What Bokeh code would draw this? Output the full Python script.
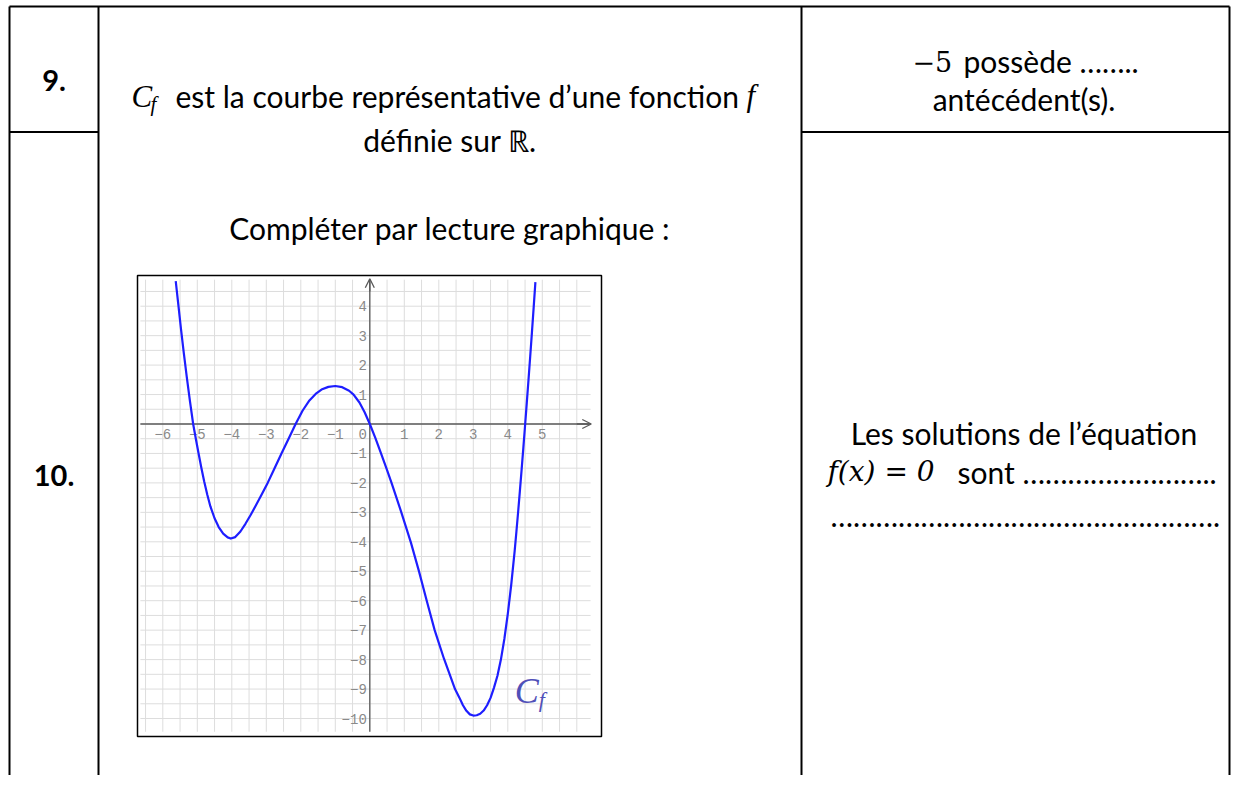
from bokeh.plotting import figure
from bokeh.models import Range1d, Arrow, OpenHead
from bokeh.core.properties import value
from bokeh.embed import file_html
from bokeh.resources import INLINE
import numpy as np

# ---------------- data ----------------
curve_x = [-5.625, -5.55, -5.47, -5.39, -5.30, -5.21, -5.12, -5.04, -4.96, -4.88, -4.80,
           -4.71, -4.62, -4.50, -4.38, -4.25, -4.12, -4.03, -3.90, -3.75, -3.60, -3.45,
           -3.30, -3.15, -2.96, -2.76, -2.56, -2.35, -2.15, -1.95, -1.75, -1.57, -1.40,
           -1.20, -1.00, -0.80, -0.60, -0.47, -0.30, -0.15, 0.00, 0.16, 0.32, 0.48, 0.63,
           0.90, 1.19, 1.43, 1.65, 1.88, 2.00, 2.15, 2.30, 2.47, 2.60, 2.70, 2.80, 2.90,
           3.00, 3.10, 3.20, 3.30, 3.40, 3.50, 3.60, 3.70, 3.80, 3.90, 4.00, 4.10, 4.20,
           4.25, 4.30, 4.35, 4.40, 4.45, 4.50, 4.55, 4.60, 4.65, 4.70, 4.75, 4.80]
curve_y = [4.85, 4.05, 3.2, 2.4, 1.55, 0.75, 0.0, -0.52, -1.02, -1.5, -1.95,
           -2.4, -2.8, -3.2, -3.5, -3.72, -3.85, -3.89, -3.84, -3.65, -3.38, -3.08,
           -2.76, -2.43, -2.0, -1.5, -1.0, -0.49, 0.0, 0.45, 0.8, 1.02, 1.17,
           1.26, 1.29, 1.25, 1.13, 1.0, 0.73, 0.4, 0.0, -0.47, -0.98, -1.5, -2.0,
           -2.95, -4.02, -5.02, -6.0, -7.0, -7.43, -7.97, -8.45, -9.0, -9.3, -9.55, -9.74, -9.86,
           -9.9, -9.89, -9.84, -9.73, -9.55, -9.3, -8.95, -8.55, -8.0, -7.3, -6.45, -5.45, -4.3,
           -3.65, -2.98, -2.28, -1.56, -0.82, -0.06, 0.72, 1.5, 2.3, 3.12, 3.96, 4.82]

x_tick_vals = [-6, -5, -4, -3, -2, -1, 1, 2, 3, 4, 5]
x_tick_text = ["\u22126", "\u22125", "\u22124", "\u22123", "\u22122", "\u22121", "1", "2", "3", "4", "5"]
y_tick_vals = [4, 3, 2, 1, -1, -2, -3, -4, -5, -6, -7, -8, -9, -10]
y_tick_text = ["4", "3", "2", "1", "\u22121", "\u22122", "\u22123", "\u22124", "\u22125",
               "\u22126", "\u22127", "\u22128", "\u22129", "\u221210"]
origin_text = ["0"]

num_labels = ["9.", "10."]
mid_line1 = "est la courbe repr\u00e9sentative d\u2019une fonction"
mid_line2 = "d\u00e9finie sur \u211d."
mid_line3 = "Compl\u00e9ter par lecture graphique :"
right_a1 = "\u22125"
right_a2 = "poss\u00e8de \u2026\u2026.."
right_b = "ant\u00e9c\u00e9dent(s)."
right_c = "Les solutions de l\u2019\u00e9quation"
right_d1 = "f(x) = 0"
right_d2 = "sont " + "\u2026" * 8 + ".."
right_e = "\u2026" * 17 + "."
curve_name = "C"
curve_sub = "f"

# ---------------- layout constants (page pixels) ----------------
W, H = 1231, 775
OX, UX = 369.3, 34.5      # chart origin / pixels per unit (x)
OY, UY = 423.5, 29.45     # chart origin / pixels per unit (y)

p = figure(width=W, height=H, output_backend="svg", toolbar_location=None,
           x_range=Range1d(0, W), y_range=Range1d(H, 0),
           x_axis_location=None, y_axis_location=None,
           min_border=0, outline_line_color=None)
p.grid.visible = False

p.extra_x_ranges = {"cx": Range1d((0 - OX) / UX, (W - OX) / UX)}
p.extra_y_ranges = {"cy": Range1d((OY - H) / UY, (OY - 0) / UY)}
C = dict(x_range_name="cx", y_range_name="cy")

# ---------------- table borders ----------------
TL, TC1, TC2, TR = 9, 98, 801, 1229
TT, TM, TB = 6, 131.5, 790
p.segment(x0=[TL, TL, TL, TC1, TC2, TR, TC2], y0=[TT, TM, TT, TT, TT, TT, TM],
          x1=[TR, TC1, TL, TC1, TC2, TR, TR], y1=[TT, TM, TB, TB, TB, TB, TM],
          line_color="black", line_width=2)

# ---------------- inner chart ----------------
gx = np.arange(-6.5, 6.01, 0.5)
gy = np.arange(-10.0, 4.51, 0.5)
p.segment(x0=gx, y0=-10.45, x1=gx, y1=4.9, line_color="#dddddd", line_width=1, **C)
p.segment(x0=-6.65, y0=gy, x1=6.4, y1=gy, line_color="#dddddd", line_width=1, **C)

axc = "#5a5a5a"
p.segment(x0=[-6.65, 0], y0=[0, -10.45], x1=[6.4, 0], y1=[0, 4.9],
          line_color=axc, line_width=1.3, **C)
p.add_layout(Arrow(end=OpenHead(size=9, line_color=axc, line_width=1.3),
                   x_start=6.0, y_start=0, x_end=6.42, y_end=0,
                   line_color=axc, line_width=1.3, **C))
p.add_layout(Arrow(end=OpenHead(size=9, line_color=axc, line_width=1.3),
                   x_start=0, y_start=4.5, x_end=0, y_end=4.93,
                   line_color=axc, line_width=1.3, **C))

tick_font = value("Liberation Mono")
tick_size = value("14px")
tick_col = "#8a8a8a"
p.text(x=x_tick_vals, y=[0] * len(x_tick_vals), text=x_tick_text, y_offset=5,
       text_align="center", text_baseline="top", text_font=tick_font,
       text_font_size=tick_size, text_color=tick_col, **C)
p.text(x=[0], y=[0], text=origin_text, x_offset=-3, y_offset=5,
       text_align="right", text_baseline="top", text_font=tick_font,
       text_font_size=tick_size, text_color=tick_col, **C)
p.text(x=[0] * len(y_tick_vals), y=y_tick_vals, text=y_tick_text, x_offset=-3,
       text_align="right", text_baseline="middle", text_font=tick_font,
       text_font_size=tick_size, text_color=tick_col, **C)

p.line(x=curve_x, y=curve_y, line_color="#1e1eff", line_width=2.2,
       line_join="round", **C)

p.text(x=[4.2], y=[-9.05], text=[curve_name], text_align="left", text_baseline="middle",
       text_font=value("Liberation Serif"), text_font_style="italic",
       text_font_size=value("36px"), text_color="#5050b8", **C)
p.text(x=[4.9], y=[-9.35], text=[curve_sub], text_align="left", text_baseline="middle",
       text_font=value("Liberation Serif"), text_font_style="italic",
       text_font_size=value("22px"), text_color="#5050b8", **C)

# chart frame
p.quad(left=137, right=601, top=275, bottom=736, fill_color=None,
       line_color="black", line_width=1.5)

# ---------------- texts ----------------
sans = value("Lato")
serif = value("Liberation Serif")
fs = value("30px")

p.text(x=[53.5, 53.5], y=[80, 475], text=num_labels, text_align="center",
       text_baseline="alphabetic", text_font=sans, text_font_style="bold",
       text_font_size=value("29px"), text_color="black")

# middle column
p.text(x=[131], y=[96], text=[curve_name], text_align="left", text_baseline="alphabetic",
       text_font=serif, text_font_style="italic", text_font_size=value("31px"), text_color="black")
p.text(x=[150], y=[103], text=[curve_sub], text_align="left", text_baseline="alphabetic",
       text_font=serif, text_font_style="italic", text_font_size=value("21px"), text_color="black")
p.text(x=[175], y=[95], text=[mid_line1], text_align="left", text_baseline="alphabetic",
       text_font=sans, text_font_size=fs, text_color="black")
p.text(x=[746], y=[95], text=["f"], text_align="left", text_baseline="alphabetic",
       text_font=serif, text_font_style="italic", text_font_size=value("31px"), text_color="black")
p.text(x=[449.5, 449.5], y=[139, 227], text=[mid_line2, mid_line3], text_align="center",
       text_baseline="alphabetic", text_font=sans, text_font_size=fs, text_color="black")

# right column
p.text(x=[912], y=[61], text=[right_a1], text_align="left", text_baseline="alphabetic",
       text_font=value("DejaVu Serif"), text_font_size=value("27px"), text_color="black")
p.text(x=[963], y=[60], text=[right_a2], text_align="left", text_baseline="alphabetic",
       text_font=sans, text_font_size=fs, text_color="black")
p.text(x=[1023.5, 1023.5], y=[98, 432], text=[right_b, right_c], text_align="center",
       text_baseline="alphabetic", text_font=sans, text_font_size=fs, text_color="black")
p.text(x=[827], y=[471], text=[right_d1], text_align="left", text_baseline="alphabetic",
       text_font=value("DejaVu Serif"), text_font_style="italic", text_font_size=value("28px"),
       text_color="black")
p.text(x=[957], y=[471], text=[right_d2], text_align="left", text_baseline="alphabetic",
       text_font=sans, text_font_size=fs, text_color="black")
p.text(x=[830], y=[514], text=[right_e], text_align="left", text_baseline="alphabetic",
       text_font=sans, text_font_size=fs, text_color="black")

open("out.html", "w").write(file_html(p, INLINE))
